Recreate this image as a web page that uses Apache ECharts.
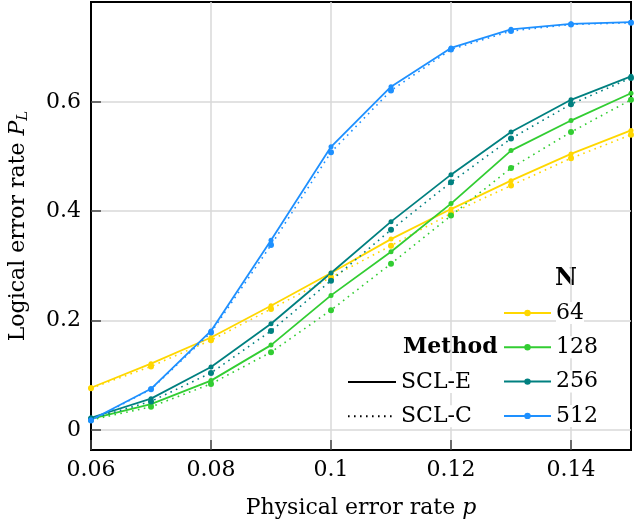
<!DOCTYPE html>
<html><head><meta charset="utf-8">
<script src="https://cdn.jsdelivr.net/npm/echarts@6/dist/echarts.min.js"></script>
<style>html,body{margin:0;padding:0;background:#fff}#c{width:634px;height:522px}</style>
</head><body><div id="c"></div>
<script>
// ---- data ----
const pValues = [0.06, 0.07, 0.08, 0.09, 0.10, 0.11, 0.12, 0.13, 0.14, 0.15];
const nLabels = ['64', '128', '256', '512'];
const methodLabels = ['SCL-E', 'SCL-C'];
const sclE_64  = [0.077, 0.121, 0.169, 0.227, 0.287, 0.349, 0.404, 0.456, 0.505, 0.548];
const sclC_64  = [0.076, 0.116, 0.164, 0.221, 0.279, 0.337, 0.396, 0.447, 0.497, 0.540];
const sclE_128 = [0.020, 0.047, 0.090, 0.155, 0.246, 0.326, 0.414, 0.511, 0.566, 0.616];
const sclC_128 = [0.018, 0.042, 0.084, 0.142, 0.219, 0.304, 0.392, 0.479, 0.545, 0.604];
const sclE_256 = [0.022, 0.057, 0.115, 0.194, 0.287, 0.381, 0.467, 0.545, 0.604, 0.647];
const sclC_256 = [0.020, 0.052, 0.104, 0.181, 0.273, 0.366, 0.453, 0.533, 0.596, 0.644];
const sclE_512 = [0.018, 0.075, 0.181, 0.347, 0.518, 0.628, 0.699, 0.733, 0.743, 0.746];
const sclC_512 = [0.017, 0.074, 0.178, 0.338, 0.508, 0.621, 0.696, 0.730, 0.742, 0.745];

// ---- styles ----
const colors = ['#FFD700', '#32CD32', '#008080', '#1E90FF'];
const FONT = 'DejaVu Serif';
const dotDash = [1.6, 4.4];

const solidSets = [sclE_64, sclE_128, sclE_256, sclE_512];
const dottedSets = [sclC_64, sclC_128, sclC_256, sclC_512];
const pairs = arr => pValues.map((p, i) => [p, arr[i]]);

const series = [];
nLabels.forEach((n, k) => {
  series.push({
    name: n + ' C', type: 'line', data: pairs(dottedSets[k]), clip: false,
    symbol: 'circle', symbolSize: 6, color: colors[k],
    lineStyle: { width: 1.6, type: dotDash, color: colors[k] },
    itemStyle: { color: colors[k] }, emphasis: { disabled: true }
  });
  series.push({
    name: n, type: 'line', data: pairs(solidSets[k]), clip: false,
    symbol: 'circle', symbolSize: 5, color: colors[k],
    lineStyle: { width: 1.8, type: 'solid', color: colors[k] },
    itemStyle: { color: colors[k] }, emphasis: { disabled: true }
  });
});
series.push({ name: methodLabels[0], type: 'line', data: [], symbol: 'none', color: '#000',
  lineStyle: { width: 1.6, type: 'solid', color: '#000' } });
series.push({ name: methodLabels[1], type: 'line', data: [], symbol: 'none', color: '#000',
  lineStyle: { width: 1.6, type: dotDash, color: '#000' } });

const legendText = { fontFamily: FONT, fontSize: 22, color: '#000', backgroundColor: '#fff' };

const option = {
  animation: false,
  backgroundColor: '#fff',
  grid: { left: 91, right: 3, top: 2, bottom: 72, outerBoundsMode: 'none', containLabel: false,
    show: true, borderColor: '#000', borderWidth: 2, backgroundColor: 'transparent' },
  xAxis: {
    type: 'value', min: 0.06, max: 0.15, interval: 0.02,
    axisLine: { show: true, onZero: false, lineStyle: { color: '#000', width: 2 } },
    axisTick: { show: true, inside: true, length: 10, lineStyle: { color: '#444', width: 1.5 } },
    axisLabel: { showMaxLabel: false, margin: 9, fontFamily: FONT, fontSize: 22, color: '#000' },
    splitLine: { show: true, showMinLine: false, showMaxLine: false, lineStyle: { color: '#d9d9d9', width: 1.5 } },
    name: 'Physical error rate {i|p}', nameLocation: 'middle', nameGap: 47,
    nameTextStyle: { fontFamily: FONT, fontSize: 22, color: '#000',
      rich: { i: { fontFamily: FONT, fontSize: 22, fontStyle: 'italic', color: '#000' } } }
  },
  yAxis: {
    type: 'value', min: -0.037, max: 0.783,
    axisLine: { show: true, onZero: false, lineStyle: { color: '#000', width: 2 } },
    axisTick: { show: true, inside: true, length: 10, lineStyle: { color: '#444', width: 1.5 } },
    axisLabel: { showMinLabel: false, showMaxLabel: false, margin: 10, fontFamily: FONT, fontSize: 22, color: '#000' },
    splitLine: { show: true, showMinLine: false, showMaxLine: false, lineStyle: { color: '#d9d9d9', width: 1.5 } },
    name: 'Logical error rate {i|P}{s|L}', nameLocation: 'middle', nameGap: 60, nameRotate: 90,
    nameTextStyle: { fontFamily: FONT, fontSize: 22, color: '#000',
      rich: {
        i: { fontFamily: FONT, fontSize: 22, fontStyle: 'italic', color: '#000' },
        s: { fontFamily: FONT, fontSize: 15, fontStyle: 'italic', color: '#000', padding: [10, 0, 0, 0] }
      } }
  },
  legend: [
    { data: nLabels, orient: 'vertical', left: 503, top: 302, padding: 0, itemWidth: 47, itemHeight: 8, itemGap: 12.3,
      textStyle: legendText, selectedMode: false },
    { data: methodLabels.map(m => ({ name: m, itemStyle: { opacity: 0 } })), orient: 'vertical', left: 347, top: 371,
      padding: 0, itemWidth: 48, itemHeight: 8, itemGap: 12.3, textStyle: legendText, selectedMode: false }
  ],
  graphic: [
    { type: 'text', left: 555, top: 267, style: { text: 'N', font: 'bold 24px "DejaVu Serif"', fill: '#000' } },
    { type: 'text', left: 403, top: 336, style: { text: 'Method', font: 'bold 22px "DejaVu Serif"', fill: '#000', backgroundColor: '#fff' } }
  ],
  series: series
};
const chart = echarts.init(document.getElementById('c'));
chart.setOption(option);
</script></body></html>
